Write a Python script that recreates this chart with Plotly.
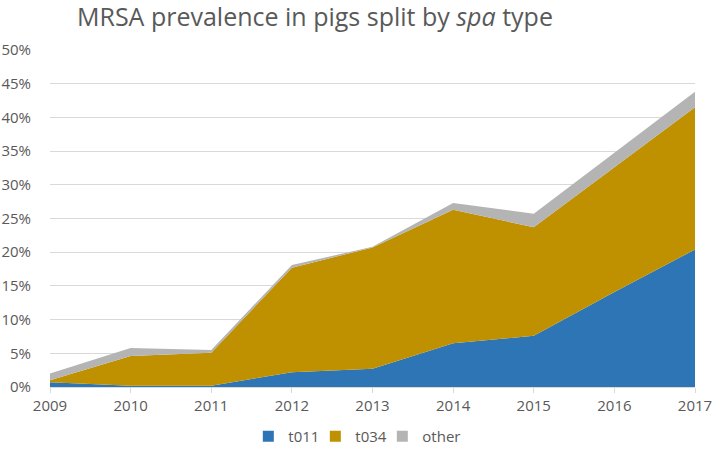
import plotly.graph_objects as go

years = [2009, 2010, 2011, 2012, 2013, 2014, 2015, 2016, 2017]
t011 = [0.7, 0.2, 0.2, 2.2, 2.7, 6.5, 7.6, 14.1, 20.4]
t034 = [0.3, 4.4, 4.9, 15.5, 18.0, 19.8, 16.1, 18.5, 21.1]
other = [1.0, 1.2, 0.4, 0.4, 0.1, 1.0, 2.0, 2.2, 2.3]
y_ticks = [0, 5, 10, 15, 20, 25, 30, 35, 40, 45, 50]

series = [("t011", t011, "#2E75B6", 22), ("t034", t034, "#BF9000", 22),
          ("other", other, "#B4B4B4", 50)]

fig = go.Figure()
for name, vals, col, _ in series:
    fig.add_trace(go.Scatter(
        x=years, y=vals, name=name, mode="lines", stackgroup="one",
        line=dict(width=0, color=col), fillcolor=col, showlegend=False,
    ))
# legend entries with square swatches
for name, vals, col, lw in series:
    fig.add_trace(go.Scatter(
        x=[None], y=[None], name=name, mode="markers", legendwidth=lw,
        marker=dict(symbol="square", size=11, color=col), showlegend=True,
    ))

font_family = "Open Sans, Liberation Sans, sans-serif"
fig.update_layout(
    width=714, height=462,
    paper_bgcolor="white", plot_bgcolor="white",
    margin=dict(l=50, r=19, t=50, b=75, autoexpand=False),
    title=dict(text="MRSA prevalence in pigs split by <i>spa</i> type",
               x=77 / 714, xanchor="left", xref="container",
               y=1 - 17 / 462, yanchor="middle", yref="container",
               font=dict(family=font_family, size=25, color="#595959")),
    font=dict(family=font_family, color="#595959", size=15),
    showlegend=True,
    legend=dict(orientation="h", x=0.485, xanchor="center", y=-0.147, yanchor="middle",
                font=dict(size=15, color="#595959"), traceorder="normal",
                itemwidth=30, tracegroupgap=0, entrywidthmode="pixels"),
    xaxis=dict(range=[2009, 2017], tickvals=years, ticktext=[str(y) for y in years],
               showgrid=False, showline=True, linecolor="#D9D9D9", linewidth=1,
               ticks="outside", ticklen=5, tickcolor="#D9D9D9", zeroline=False,
               automargin=False, tickfont=dict(size=15, color="#595959")),
    yaxis=dict(range=[0, 50], tickvals=y_ticks, ticktext=[f"{v}%" for v in y_ticks],
               showgrid=True, gridcolor="#D9D9D9", gridwidth=1, zeroline=False,
               showline=False, ticks="", automargin=False, ticklabelstandoff=18,
               tickfont=dict(size=15, color="#595959")),
)

fig.write_html("out.html", config={"displayModeBar": False, "staticPlot": True},
               post_script="document.body.style.margin='0';document.body.style.overflow='hidden';")
